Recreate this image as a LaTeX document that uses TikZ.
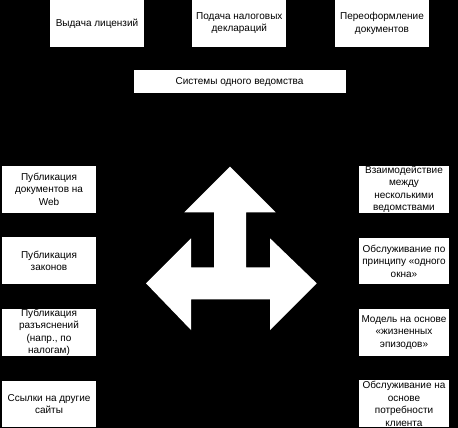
\documentclass[tikz,border=0pt]{standalone}
\usepackage{fontspec}
\setmainfont{Liberation Sans}
\usepackage{tikz}
\usetikzlibrary{positioning}
\tikzstyle{box} = [fill=white, inner sep=0pt, align=center, font=\fontsize{10}{12.5}\selectfont]

\begin{document}
\begin{tikzpicture}[
			x=1pt, y=-1pt,
			node distance=24.5pt,
			lbox/.style={box, minimum width=94pt, minimum height=46.5pt},
			rbox/.style={box, minimum width=90pt, minimum height=46.5pt}
			]
			
			% background
			\fill[black] (0,0) rectangle (458,428);
			
			% Top row
			\node[lbox] (lic) at (97,23.3) {Выдача лицензий};
			\node[lbox] (decl) at (239.3,23.3) {Подача налоговых\\деклараций};
			\node[lbox] (docs) at (382,23.3) {Переоформление\\документов};
			\node[box, minimum width=212pt, minimum height=23pt] (one) at (239.5,82) {Системы одного ведомства};
			
			% Left column
			\node[lbox] (web) at (49,189.3) {Публикация\\документов на\\Web};
			\node[lbox, below=of web] (laws) {Публикация\\законов};
			\node[lbox, below=of laws] (expl) {Публикация\\разъяснений\\(напр., по\\налогам)};
			\node[lbox, below=of expl] (links) {Ссылки на другие\\сайты};
			
			% Right column
			\node[rbox] (inter) at (404,189.3) {Взаимодействие\\между\\несколькими\\ведомствами};
			\node[rbox, below=of inter] (window) {Обслуживание по\\принципу «одного\\окна»};
			\node[rbox, below=of window] (life) {Модель на основе\\«жизненных\\эпизодов»};
			\node[rbox, below=of life] (client) {Обслуживание на\\основе\\потребности\\клиента};
			
			% Big arrow in the middle
			\fill[white] (230,166.7) -- (275.7,212.3) -- (246,212.3) -- (246,267.3)
			-- (270,267.3) -- (270,238.3) -- (316.7,283.3) -- (270,330) -- (270,299.3)
			-- (191,299.3) -- (191,330) -- (146,283.3) -- (191,238.3) -- (191,267.3)
			-- (214,267.3) -- (214,212.3) -- (184.3,212.3) -- cycle;
			
		\end{tikzpicture}
\end{document}
